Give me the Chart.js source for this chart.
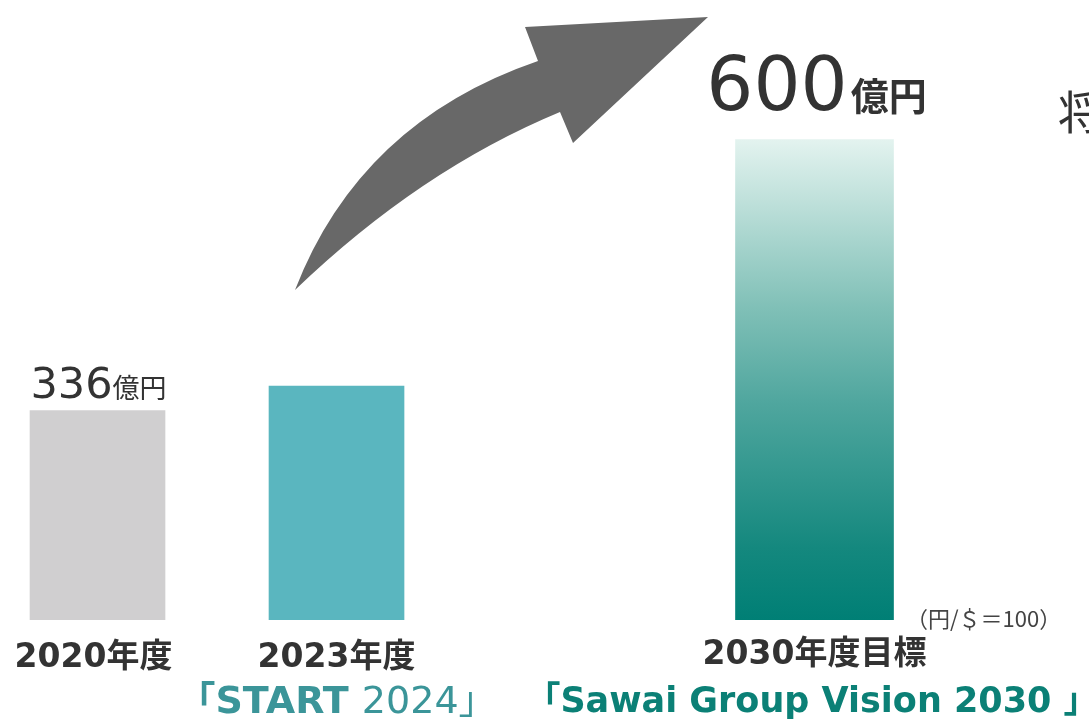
<!DOCTYPE html>
<html lang="ja">
<head>
<meta charset="utf-8">
<title>売上収益目標</title>
<script src="https://cdn.jsdelivr.net/npm/chart.js@4"></script>
<style>
  html, body { margin: 0; padding: 0; background: #fff; }
  #wrap { width: 1089px; height: 721px; position: relative; }
</style>
</head>
<body>
<div id="wrap"><canvas id="myChart"></canvas></div>
<script>
// Fiscal years and revenue (億円)
const categories = ['2020年度', '2023年度', '2030年度目標'];
const slots = [0, 1, 3];            // 2030 sits one slot further out
const revenue = [336, 360, 600];
const valueLabels = ['336', '', '600'];

const FONT = '"DejaVu Sans", "Noto Sans CJK JP", sans-serif';
const JP = '"Noto Sans CJK JP", "DejaVu Sans", sans-serif';

// gradient fill for the 2030 target bar
function targetFill(ctx) {
  const chart = ctx.chart;
  const y = chart.scales.y;
  if (!chart.chartArea || !y) return '#0b8076';
  const top = y.getPixelForValue(revenue[2]);
  const bottom = y.getPixelForValue(y.min);
  if (!isFinite(top) || !isFinite(bottom)) return '#0b8076';
  const g = chart.ctx.createLinearGradient(0, top, 0, bottom);
  g.addColorStop(0, '#e3f3ef');
  g.addColorStop(0.35, '#80c0b7');
  g.addColorStop(0.55, '#4fa69e');
  g.addColorStop(0.85, '#14887e');
  g.addColorStop(1, '#007f75');
  return g;
}

// draws runs of [text, font, colour] side by side, centred on cx
function drawRuns(ctx, runs, cx, cy) {
  let total = 0;
  runs.forEach(r => { ctx.font = r[1]; total += ctx.measureText(r[0]).width; });
  let left = cx - total / 2;
  ctx.textAlign = 'left';
  runs.forEach(r => {
    ctx.font = r[1];
    ctx.fillStyle = r[2];
    ctx.fillText(r[0], left, cy);
    left += ctx.measureText(r[0]).width;
  });
}

// curved arrow, labels and notes drawn on top of the bars
const decorations = {
  id: 'decorations',
  afterDatasetsDraw(chart) {
    const { ctx, scales: { x, y } } = chart;
    ctx.save();

    // big growth arrow
    ctx.fillStyle = '#686868';
    ctx.beginPath();
    ctx.moveTo(295, 290);
    ctx.quadraticCurveTo(360, 122, 538, 61);
    ctx.lineTo(525, 27);
    ctx.lineTo(708, 17);
    ctx.lineTo(573, 143);
    ctx.lineTo(560, 112);
    ctx.quadraticCurveTo(420, 170, 295, 290);
    ctx.closePath();
    ctx.fill();

    ctx.textBaseline = 'alphabetic';
    const ink = '#333333';

    // value labels
    drawRuns(ctx, [[valueLabels[0], '43px ' + FONT, ink], ['億円', '27px ' + JP, ink]],
      x.getPixelForValue(slots[0]) + 1, y.getPixelForValue(revenue[0]) - 13);
    drawRuns(ctx, [[valueLabels[2], '74px ' + FONT, ink], [' ', '10px ' + FONT, ink], ['億円', 'bold 38px ' + JP, ink]],
      x.getPixelForValue(slots[2]) + 2, y.getPixelForValue(revenue[2]) - 30);

    // year labels under the bars
    ctx.textAlign = 'center';
    ctx.textBaseline = 'middle';
    ctx.fillStyle = ink;
    ctx.font = 'bold 33px ' + FONT;
    categories.forEach((c, i) => {
      const cx = x.getPixelForValue(slots[i]);
      ctx.fillText(c, cx - (i === 0 ? 4 : 0), i === 2 ? 655 : 658);
    });

    // plan names
    drawRuns(ctx, [['「START ', 'bold 38px ' + FONT, '#3b9599'], ['2024」', '38px ' + FONT, '#3b9599']], 337, 703);
    drawRuns(ctx, [['「Sawai Group Vision 2030 」', 'bold 35px ' + FONT, '#0b8076']], 812, 703);

    // exchange rate note
    ctx.fillStyle = '#444444';
    ctx.font = '22px ' + JP;
    ctx.textAlign = 'left';
    ctx.fillText('（円/＄＝100）', 906, 619);

    // clipped heading at the right edge
    ctx.fillStyle = ink;
    ctx.font = '46px ' + JP;
    ctx.fillText('将', 1058, 112);

    ctx.restore();
  }
};

const ctx = document.getElementById('myChart');

new Chart(ctx, {
  type: 'bar',
  data: {
    datasets: [
      {
        label: '実績',
        data: slots.slice(0, 2).map((s, i) => ({ x: s, y: revenue[i] })),
        backgroundColor: ['#d0cfd0', '#5ab6bf'],
        barThickness: 135,
        grouped: false
      },
      {
        label: '目標',
        data: [{ x: slots[2], y: revenue[2] }],
        backgroundColor: targetFill,
        barThickness: 158,
        grouped: false
      }
    ]
  },
  options: {
    responsive: true,
    maintainAspectRatio: false,
    animation: false,
    layout: { padding: { top: 0, bottom: 101, left: 0, right: 0 } },
    plugins: {
      legend: { display: false },
      tooltip: { enabled: false }
    },
    scales: {
      x: { type: 'linear', offset: false, min: -0.408, max: 4.1485, display: false },
      y: { min: 132, max: 736, display: false }
    }
  },
  plugins: [decorations]
});
</script>
</body>
</html>
